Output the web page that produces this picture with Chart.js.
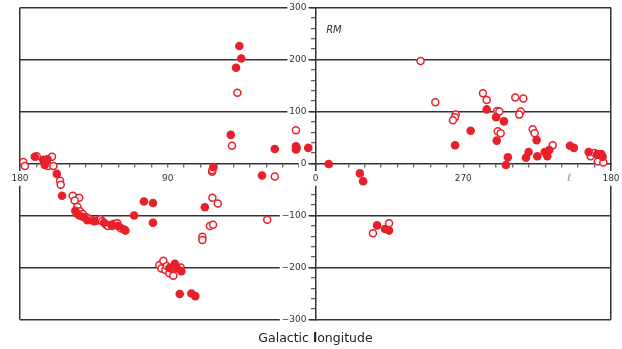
<!doctype html>
<html lang="en">
<head>
<meta charset="utf-8">
<title>RM vs galactic longitude</title>
<style>
  * { margin: 0; padding: 0; }
  body { background: #fff; }
  #chart { display: block; }
</style>
</head>
<body>
<canvas id="chart" width="622" height="349"></canvas>
<script src="https://cdn.jsdelivr.net/npm/chart.js"></script>
<script>
// galactic longitude (deg) and rotation measure
const filledLon = [171, 165.8, 164.6, 164.9, 163.3, 157.6, 154.4,
  146.3, 145.4, 143.8, 141.4, 139, 134.9, 128.8, 124.4, 120.3, 116.6, 115.8,
  110.5, 104.5, 99, 99, 89, 85.7, 84.2, 81.7, 82.7, 75.6, 73.2, 67.4, 62.2,
  46.4, 45.2, 48.4, 51.6, 32.6, 24.8, 11.9, 11.9, 11.5, 4.4,
  352, 333, 331, 322.5, 317.7, 315.2, 275, 265.5, 255.7, 250, 245.2, 249.6,
  242.8, 244, 225.3, 230.2, 231.8, 224.9, 220.4, 218.8, 217.6, 205, 202.6,
  193.6, 188.4, 185.9, 185.1];
const filledRM = [13, 7, 3, -3, 8, -20, -62,
  -91, -96, -100, -103, -109, -111, -114, -118, -120, -127, -129,
  -100, -73, -76, -114, -201, -193, -202, -207, -251, -250, -255, -84, -7,
  226, 202, 184, 55, -23, 28, 33, 27, 30, 30,
  -1, -19, -34, -119, -126, -129, 35, 63, 104, 89, 81, 44,
  12, -3, 45, 22, 11, 14, 22, 14, 26, 34, 30,
  22, 18, 18, 13];

const openLon = [178, 177, 169.8, 162.9, 160.5, 159.7, 155.6, 155.2,
  147.9, 143.9, 146.7, 145.1, 143.4, 141.8, 139.8, 138.1, 136.1, 133.3, 130.8,
  130, 127.6, 126.4, 123.9, 122.7, 120.7, 119.1, 118.3,
  95.1, 92.7, 93.9, 91.5, 90.6, 89, 87.8, 86.6, 82.1,
  62.8, 59.5, 64.3, 62.4, 68.9, 68.9, 63, 62.8, 47.6, 50.9, 24.8, 29.4, 11.9,
  325, 315.2, 296, 287, 274.6, 275, 276.3, 258, 255.7, 249.3, 248, 249, 247.2,
  238.3, 233.4, 235, 235.9, 227.7, 226.5, 215.5, 192.4, 190, 188, 184.7];
const openRM = [3, -5, 14, -5, 13, -5, -33, -41,
  -62, -66, -71, -83, -92, -97, -103, -106, -109, -110, -107,
  -111, -118, -120, -120, -116, -115, -123, -125,
  -195, -187, -202, -205, -197, -211, -202, -216, -200,
  -66, -77, -120, -118, -141, -147, -16, -13, 136, 34, -25, -108, 64,
  -134, -115, 197, 118, 94, 89, 83, 135, 122, 101, 100, 62, 58,
  127, 125, 100, 94, 66, 58, 35, 14, 20, 4, 2];

// axis runs 180 -> 90 -> 0 | 270 -> 180
const xTickValues = [-180, -90, 0, 90, 180];
const xTickText = ['180', '90', '0', '270', '180'];
const yMajor = [-300, -200, -100, 0, 100, 200, 300];

const red = '#e8202a';
const ink = '#333';
const none = 'rgba(0,0,0,0)';

function toAxis(l) { return l <= 180 ? -l : 360 - l; }
function points(lon, rm) { return lon.map((l, i) => ({x: toAxis(l), y: rm[i]})); }
function fmt(v) { return v < 0 ? '\u2212' + (-v) : String(v); }
// white box only behind real labels
function backdrop(c) { return (c.tick && c.tick.label) ? '#fff' : none; }
// positioned axes should not push the chart area around
function noPadding(s) { s.paddingLeft = s.paddingRight = s.paddingTop = s.paddingBottom = 0; }

Chart.defaults.font.family = '"DejaVu Sans", Verdana, sans-serif';

const texts = {
  id: 'texts',
  afterDraw(chart) {
    const ctx = chart.ctx;
    const xs = chart.scales.x, ys = chart.scales.y;
    ctx.save();
    ctx.textBaseline = 'middle';
    ctx.fillStyle = ink;
    ctx.font = 'italic 10px "DejaVu Sans"';
    ctx.textAlign = 'left';
    ctx.fillText('RM', xs.getPixelForValue(6.5), ys.getPixelForValue(255));
    ctx.fillStyle = '#999';
    ctx.textAlign = 'center';
    ctx.fillText('\u2113', xs.getPixelForValue(154.5), ys.getPixelForValue(0) + 15);

    // axis title, with the "l" of longitude in bold
    const a = 'Galactic ', b = 'l', c = 'ongitude';
    const reg = '12.5px "DejaVu Sans"', bold = 'bold 12.5px "DejaVu Sans"';
    ctx.fillStyle = '#222';
    ctx.textAlign = 'left';
    ctx.font = reg;
    const wa = ctx.measureText(a).width, wc = ctx.measureText(c).width;
    ctx.font = bold;
    const wb = ctx.measureText(b).width;
    let x = xs.getPixelForValue(0) - (wa + wb + wc) / 2;
    const y = 339;
    ctx.font = reg; ctx.fillText(a, x, y); x += wa;
    ctx.font = bold; ctx.fillText(b, x, y); x += wb;
    ctx.font = reg; ctx.fillText(c, x, y);
    ctx.restore();
  }
};

new Chart(document.getElementById('chart'), {
  type: 'scatter',
  data: {
    datasets: [{
      label: 'filled',
      data: points(filledLon, filledRM),
      pointRadius: 4.3,
      pointBorderWidth: 0,
      pointBackgroundColor: red,
      pointBorderColor: red
    }, {
      label: 'open',
      data: points(openLon, openRM),
      pointRadius: 3.5,
      pointBorderWidth: 1.5,
      pointBackgroundColor: '#fff',
      pointBorderColor: red
    }]
  },
  options: {
    responsive: false,
    animation: false,
    devicePixelRatio: 1,
    layout: { padding: { left: 20, right: 11, top: 7.5, bottom: 29.5 } },
    plugins: { legend: { display: false }, tooltip: { enabled: false } },
    scales: {
      x: {
        type: 'linear', min: -180, max: 180,
        position: { y: 0 },
        afterFit: noPadding,
        grid: {
          color: c => (c.tick && Math.abs(c.tick.value) === 180) ? ink : none,
          lineWidth: 1.5, tickColor: ink, tickWidth: 1, tickLength: 3
        },
        border: { color: ink, width: 1.5, z: -1 },
        ticks: {
          stepSize: 10, autoSkip: false, maxRotation: 0, padding: 6.5,
          color: ink, font: { size: 9 },
          showLabelBackdrop: true, backdropColor: backdrop, backdropPadding: 2,
          callback: v => {
            const i = xTickValues.indexOf(v);
            return i < 0 ? '' : xTickText[i];
          }
        }
      },
      y: {
        type: 'linear', min: -300, max: 300,
        position: { x: 0 },
        afterFit: noPadding,
        grid: {
          color: c => (c.tick && c.tick.value !== 0 && yMajor.includes(c.tick.value)) ? ink : none,
          lineWidth: 1.5, tickColor: ink, tickWidth: 1, tickLength: 4
        },
        border: { color: ink, width: 1.5, z: -1 },
        ticks: {
          stepSize: 20, autoSkip: false, padding: 0,
          color: ink, font: { size: 9 },
          showLabelBackdrop: true, backdropColor: backdrop,
          backdropPadding: { top: 1, bottom: 1, left: 2, right: -7 },
          // em space keeps the label clear of the tick marks
          callback: v => yMajor.includes(v) ? fmt(v) + '\u2003' : ''
        }
      }
    }
  },
  plugins: [texts]
});
</script>
</body>
</html>
